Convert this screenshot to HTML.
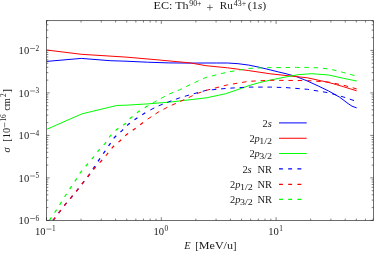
<!DOCTYPE html>
<html><head><meta charset="utf-8"><title>EC cross sections</title>
<style>
html,body{margin:0;padding:0;background:#fff;}
body{width:374px;height:253px;overflow:hidden;}
svg{display:block;will-change:transform;opacity:0.999;font-family:"Liberation Serif",serif;fill:#1a1a1a;}
.c{fill:none;stroke-width:1.0;stroke-linejoin:round;}
.d{stroke-dasharray:3.9 5.3;}
.w{stroke-width:1.25;}
.ax{stroke:#1c1c1c;stroke-width:0.64;fill:none;}
.tk{stroke:#2a2a2a;stroke-width:0.6;fill:none;}
.i{font-style:italic;}
</style></head><body>
<svg width="374" height="253" viewBox="0 0 374 253">
<rect width="374" height="253" fill="#fff"/>
<defs><clipPath id="cp"><rect x="46.5" y="20.7" width="327.0" height="199.7"/></clipPath></defs>
<path class="tk" d="M46.5 220.40h3.2M373.5 220.40h-3.2M46.5 207.61h1.8M373.5 207.61h-1.8M46.5 200.12h1.8M373.5 200.12h-1.8M46.5 194.81h1.8M373.5 194.81h-1.8M46.5 190.69h1.8M373.5 190.69h-1.8M46.5 187.33h1.8M373.5 187.33h-1.8M46.5 184.48h1.8M373.5 184.48h-1.8M46.5 182.02h1.8M373.5 182.02h-1.8M46.5 179.84h1.8M373.5 179.84h-1.8M46.5 177.90h3.2M373.5 177.90h-3.2M46.5 165.11h1.8M373.5 165.11h-1.8M46.5 157.62h1.8M373.5 157.62h-1.8M46.5 152.31h1.8M373.5 152.31h-1.8M46.5 148.19h1.8M373.5 148.19h-1.8M46.5 144.83h1.8M373.5 144.83h-1.8M46.5 141.98h1.8M373.5 141.98h-1.8M46.5 139.52h1.8M373.5 139.52h-1.8M46.5 137.34h1.8M373.5 137.34h-1.8M46.5 135.40h3.2M373.5 135.40h-3.2M46.5 122.61h1.8M373.5 122.61h-1.8M46.5 115.12h1.8M373.5 115.12h-1.8M46.5 109.81h1.8M373.5 109.81h-1.8M46.5 105.69h1.8M373.5 105.69h-1.8M46.5 102.33h1.8M373.5 102.33h-1.8M46.5 99.48h1.8M373.5 99.48h-1.8M46.5 97.02h1.8M373.5 97.02h-1.8M46.5 94.84h1.8M373.5 94.84h-1.8M46.5 92.90h3.2M373.5 92.90h-3.2M46.5 80.11h1.8M373.5 80.11h-1.8M46.5 72.62h1.8M373.5 72.62h-1.8M46.5 67.31h1.8M373.5 67.31h-1.8M46.5 63.19h1.8M373.5 63.19h-1.8M46.5 59.83h1.8M373.5 59.83h-1.8M46.5 56.98h1.8M373.5 56.98h-1.8M46.5 54.52h1.8M373.5 54.52h-1.8M46.5 52.34h1.8M373.5 52.34h-1.8M46.5 50.40h3.2M373.5 50.40h-3.2M46.5 37.61h1.8M373.5 37.61h-1.8M46.5 30.12h1.8M373.5 30.12h-1.8M46.5 24.81h1.8M373.5 24.81h-1.8M46.5 20.69h1.8M373.5 20.69h-1.8M46.50 220.4v-3.2M46.50 20.7v3.2M81.06 220.4v-1.8M81.06 20.7v1.8M101.27 220.4v-1.8M101.27 20.7v1.8M115.62 220.4v-1.8M115.62 20.7v1.8M126.74 220.4v-1.8M126.74 20.7v1.8M135.83 220.4v-1.8M135.83 20.7v1.8M143.52 220.4v-1.8M143.52 20.7v1.8M150.17 220.4v-1.8M150.17 20.7v1.8M156.05 220.4v-1.8M156.05 20.7v1.8M161.30 220.4v-3.2M161.30 20.7v3.2M195.86 220.4v-1.8M195.86 20.7v1.8M216.07 220.4v-1.8M216.07 20.7v1.8M230.42 220.4v-1.8M230.42 20.7v1.8M241.54 220.4v-1.8M241.54 20.7v1.8M250.63 220.4v-1.8M250.63 20.7v1.8M258.32 220.4v-1.8M258.32 20.7v1.8M264.97 220.4v-1.8M264.97 20.7v1.8M270.85 220.4v-1.8M270.85 20.7v1.8M276.10 220.4v-3.2M276.10 20.7v3.2M310.66 220.4v-1.8M310.66 20.7v1.8M330.87 220.4v-1.8M330.87 20.7v1.8M345.22 220.4v-1.8M345.22 20.7v1.8M356.34 220.4v-1.8M356.34 20.7v1.8M365.43 220.4v-1.8M365.43 20.7v1.8M373.12 220.4v-1.8M373.12 20.7v1.8"/>
<g clip-path="url(#cp)">
<polyline class="c" stroke="#0000ff" points="46.7,61.4 81.3,58.4 110.2,60.7 126.0,61.2 147.4,62.2 168.8,62.9 190.0,63.1 206.0,63.0 216.7,63.0 227.4,63.0 238.1,63.7 248.8,65.1 259.5,67.3 270.2,69.9 278.7,72.0 286.0,73.7 296.7,76.7 307.4,81.0 318.1,85.9 328.8,91.1 339.5,97.1 348.0,103.5 352.0,106.2 356.7,107.9"/>
<polyline class="c" stroke="#ff0000" points="46.7,50.0 81.3,54.3 126.0,57.1 158.1,59.9 190.2,62.9 206.0,65.7 227.4,67.8 248.8,70.6 270.2,73.8 286.0,75.5 307.4,77.8 328.8,82.5 336.3,84.6 343.8,86.8 350.2,88.8 356.7,90.8"/>
<polyline class="c" stroke="#00ff00" points="46.7,129.3 81.8,113.9 116.6,105.5 126.0,105.2 147.4,103.9 168.8,102.2 206.0,97.9 225.3,93.8 237.0,89.9 248.8,85.6 259.5,82.6 270.2,80.1 286.0,76.9 298.8,74.6 311.7,73.7 328.8,75.0 343.8,78.4 356.7,81.0"/>
<polyline class="c w" stroke="#0000ff" stroke-dasharray="3.6 5.69" points="53.0,220.4 59.1,212.4 65.5,204.2 71.3,197.3 77.5,189.9 83.1,182.7 88.8,175.3 94.1,167.4 99.0,159.9 104.2,152.4 109.7,144.3 114.4,137.5 122.0,130.6 128.1,124.6 136.7,118.2 147.4,111.4"/>
<polyline class="c" stroke="#0000ff" stroke-width="1.05" stroke-dasharray="4.5 4.79" stroke-dashoffset="6.06" points="147.4,111.4 158.1,106.0 168.8,101.8 179.5,97.9 190.2,94.7 206.0,90.4 227.4,88.3 248.8,87.1 270.2,87.1 286.0,87.6 307.4,89.3 328.8,92.8 343.8,97.1 356.7,101.5"/>
<polyline class="c w" stroke="#ff0000" stroke-dasharray="3.6 5.69" points="53.0,220.4 59.1,212.4 65.5,204.2 71.3,197.3 77.3,190.0 82.8,182.8 88.8,175.3 94.8,167.8 101.2,161.0 107.0,154.3 113.4,146.4 119.8,141.0 126.0,135.1 134.6,128.9 147.4,119.3"/>
<polyline class="c" stroke="#ff0000" stroke-width="1.05" stroke-dasharray="4.5 4.79" stroke-dashoffset="9.01" points="147.4,119.3 158.1,112.2 168.8,106.5 179.5,101.8 190.2,96.8 198.7,93.0 206.0,90.4 227.4,84.9 248.8,81.3 270.2,80.3 286.0,80.4 307.4,80.6 328.8,82.1 343.8,85.3 356.7,88.9"/>
<polyline class="c w" stroke="#00ff00" stroke-dasharray="3.6 5.72" points="49.4,220.4 55.5,211.3 60.4,203.6 65.5,195.5 70.8,187.4 75.5,180.4 80.7,172.1 86.6,165.2 92.6,158.2 98.4,150.7 105.2,143.3 110.2,136.0 116.6,129.6 126.0,123.2 130.3,118.2 138.8,111.4 147.4,106.0"/>
<polyline class="c" stroke="#00ff00" stroke-width="1.05" stroke-dasharray="4.5 4.82" stroke-dashoffset="3.21" points="147.4,106.0 158.1,100.0 168.8,94.2 179.5,89.8 190.2,84.6 206.0,77.4 227.4,72.1 248.8,68.4 270.2,67.6 286.0,67.5 296.7,67.4 307.4,67.4 318.1,67.8 328.8,69.0 336.3,70.6 343.8,72.6 350.2,74.4 356.7,76.2"/>
</g>
<rect class="ax" x="46.5" y="20.7" width="327.0" height="199.7"/>
<path class="c" stroke="#0000ff" d="M279.0 122.90H306.7"/>
<path class="c" stroke="#ff0000" d="M279.0 138.25H306.7"/>
<path class="c" stroke="#00ff00" d="M279.0 153.50H306.7"/>
<path class="c d w" stroke="#0000ff" d="M279.0 168.80H306.4"/>
<path class="c d w" stroke="#ff0000" d="M279.0 184.30H306.4"/>
<path class="c d w" stroke="#00ff00" d="M279.0 199.35H306.4"/>
<text x="262.6" y="126.9" font-size="10.4"><tspan>2</tspan><tspan class="i">s</tspan></text>
<text x="249.4" y="142.2" font-size="10.4"><tspan>2</tspan><tspan class="i">p</tspan></text><text x="259.2" y="144.2" font-size="7.3" textLength="12.8" lengthAdjust="spacingAndGlyphs">1/2</text>
<text x="249.4" y="157.4" font-size="10.4"><tspan>2</tspan><tspan class="i">p</tspan></text><text x="259.2" y="159.4" font-size="7.3" textLength="12.8" lengthAdjust="spacingAndGlyphs">3/2</text>
<text x="257.4" y="172.7" font-size="10.4" textLength="14.6" lengthAdjust="spacingAndGlyphs">NR</text><text x="242.4" y="172.7" font-size="10.4"><tspan>2</tspan><tspan class="i">s</tspan></text>
<text x="257.4" y="188.0" font-size="10.4" textLength="14.6" lengthAdjust="spacingAndGlyphs">NR</text><text x="230.1" y="188.0" font-size="10.4"><tspan>2</tspan><tspan class="i">p</tspan></text><text x="239.9" y="190.0" font-size="7.3" textLength="12.8" lengthAdjust="spacingAndGlyphs">1/2</text>
<text x="257.4" y="203.2" font-size="10.4" textLength="14.6" lengthAdjust="spacingAndGlyphs">NR</text><text x="230.1" y="203.2" font-size="10.4"><tspan>2</tspan><tspan class="i">p</tspan></text><text x="239.9" y="205.2" font-size="7.3" textLength="12.8" lengthAdjust="spacingAndGlyphs">3/2</text>
<text x="18.6" y="224.1" font-size="10.6">10</text><path d="M30.1 218.5h5.0" stroke="#222" stroke-width="0.55"/><text x="35.5" y="220.8" font-size="7.3">6</text>
<text x="18.6" y="181.6" font-size="10.6">10</text><path d="M30.1 176.0h5.0" stroke="#222" stroke-width="0.55"/><text x="35.5" y="178.3" font-size="7.3">5</text>
<text x="18.6" y="139.1" font-size="10.6">10</text><path d="M30.1 133.5h5.0" stroke="#222" stroke-width="0.55"/><text x="35.5" y="135.8" font-size="7.3">4</text>
<text x="18.6" y="96.6" font-size="10.6">10</text><path d="M30.1 91.0h5.0" stroke="#222" stroke-width="0.55"/><text x="35.5" y="93.3" font-size="7.3">3</text>
<text x="18.6" y="54.1" font-size="10.6">10</text><path d="M30.1 48.5h5.0" stroke="#222" stroke-width="0.55"/><text x="35.5" y="50.8" font-size="7.3">2</text>
<text x="35.0" y="234.7" font-size="10.6">10</text><path d="M46.5 229.1h5.0" stroke="#222" stroke-width="0.55"/><text x="51.9" y="231.4" font-size="7.3">1</text>
<text x="153.5" y="234.7" font-size="10.6">10</text><text x="164.5" y="231.4" font-size="7.3">0</text>
<text x="268.3" y="234.7" font-size="10.6">10</text><text x="279.3" y="231.4" font-size="7.3">1</text>
<text x="153.6" y="9.4" font-size="10.4" textLength="35.0" lengthAdjust="spacingAndGlyphs">EC: Th</text>
<text x="189.2" y="5.9" font-size="7.3" textLength="12.4" lengthAdjust="spacingAndGlyphs">90+</text>
<path d="M207.0 7.5h5.8M209.9 4.6v5.8" stroke="#222" stroke-width="0.6" fill="none"/>
<text x="219.8" y="9.4" font-size="10.4" textLength="13.0" lengthAdjust="spacingAndGlyphs">Ru</text>
<text x="233.8" y="5.9" font-size="7.3" textLength="12.4" lengthAdjust="spacingAndGlyphs">43+</text>
<text x="247.8" y="9.4" font-size="10.4" textLength="18.4" lengthAdjust="spacingAndGlyphs">(1<tspan class="i">s</tspan>)</text>
<text x="184.3" y="249.3" font-size="10.4" class="i">E</text><text x="195.3" y="249.3" font-size="10.4">[</text><text x="198.8" y="249.3" font-size="10.4" textLength="34.2" lengthAdjust="spacingAndGlyphs">MeV/u</text><text x="233.0" y="249.3" font-size="10.4">]</text>
<g transform="translate(10.0,152.3) rotate(-90)"><text x="-0.3" y="0" font-size="10.4" class="i">σ</text><text x="10.6" y="0" font-size="10.4">[</text><text x="14.1" y="0" font-size="10.4">10</text><path d="M24.9 -5.4h4.8" stroke="#222" stroke-width="0.55"/><text x="30.7" y="-3.6" font-size="7.3">16</text><text x="41.6" y="0" font-size="10.4" textLength="12.6" lengthAdjust="spacingAndGlyphs">cm</text><text x="55.3" y="-3.6" font-size="7.3">2</text><text x="59.9" y="0" font-size="10.4">]</text></g>
</svg>
</body></html>
